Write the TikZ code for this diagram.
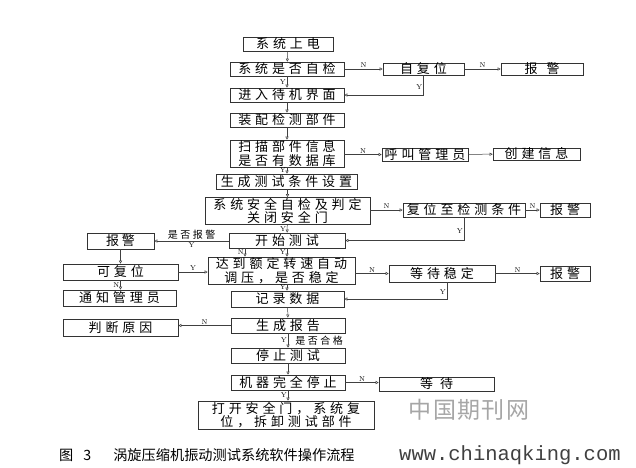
\documentclass[tikz,border=0pt]{standalone}
\usepackage{fontspec}
\usetikzlibrary{arrows.meta}
\setmonofont{Liberation Mono}
\newfontfamily\cjk[LetterSpace=30]{Noto Sans CJK SC}
\newfontfamily\cjklab[LetterSpace=25]{Noto Sans CJK SC}
\newfontfamily\cjkplain{Noto Sans CJK SC}
\tikzset{
  box/.style={draw=black!80, line width=0.6pt, inner sep=0pt, minimum height=14pt,
    font={\cjk\fontsize{13}{13.5}\selectfont}},
  twoline/.style={box, align=center, minimum height=27pt},
  arr/.style={-{Triangle[open,length=3pt,width=3pt]}, line width=0.5pt, draw=black!75},
  lab/.style={inner sep=1pt, font={\fontsize{7}{8}\selectfont}},
  clab/.style={inner sep=1pt, font={\cjklab\fontsize{10}{11}\selectfont}}
}
\begin{document}
\begin{tikzpicture}[x=1pt,y=-1pt]
        \useasboundingbox (0,0) rectangle (636,467);
        \node[box, minimum width=90pt] (power) at (288,44) {系统上电};
        \node[box, minimum width=114pt] (selfchk) at (287,69) {系统是否自检};
        \node[box, minimum width=81pt, minimum height=12pt] (reset) at (423.5,69) {自复位};
        \node[box, minimum width=82pt, minimum height=12pt] (alarmA) at (542,69) {报\hspace{9pt}警};
        \node[box, minimum width=114pt] (standby) at (287,95) {进入待机界面};
        \node[box, minimum width=114pt] (mount) at (287,120) {装配检测部件};
        \node[twoline, minimum width=114pt] (scan) at (287,153.5) {扫描部件信息\\是否有数据库};
        \node[box, minimum width=86pt, minimum height=13pt] (call) at (425,154.5) {呼叫管理员};
        \node[box, minimum width=87pt, minimum height=12pt] (create) at (536.5,154) {创建信息};
        \node[box, minimum width=141pt, minimum height=15pt] (cond) at (286.5,181.5) {生成测试条件设置};
        \node[twoline, minimum width=165pt] (safe) at (287.5,211) {系统安全自检及判定\\关闭安全门};
        \node[box, minimum width=122pt] (resetc) at (464,210) {复位至检测条件};
        \node[box, minimum width=50pt] (alarmB) at (565,210) {报\hspace{4pt}警};
        \node[box, minimum width=116pt, minimum height=15pt] (start) at (287,240.5) {开始测试};
        \node[box, minimum width=67pt, minimum height=16pt] (alarmC) at (120.5,241) {报\hspace{3pt}警};
        \node[twoline, minimum width=147pt] (speed) at (281.5,270.5) {达到额定转速自动\\调压，是否稳定};
        \node[box, minimum width=115pt, minimum height=16pt] (recov) at (120.5,272) {可复位};
        \node[box, minimum width=106pt, minimum height=17pt] (waitA) at (442,273.5) {等待稳定};
        \node[box, minimum width=50pt, minimum height=15pt] (alarmD) at (565,273.5) {报\hspace{4pt}警};
        \node[box, minimum width=113pt, minimum height=16pt] (notify) at (119.5,298) {通知管理员};
        \node[box, minimum width=113pt, minimum height=16pt] (record) at (287.5,299) {记录数据};
        \node[box, minimum width=115pt, minimum height=17pt] (cause) at (120.5,327.5) {判断原因};
        \node[box, minimum width=114pt, minimum height=15pt] (report) at (288,325.5) {生成报告};
        \node[box, minimum width=114pt, minimum height=15pt] (stop) at (288,355.5) {停止测试};
        \node[box, minimum width=114pt, minimum height=15pt] (halt) at (288,382.5) {机器完全停止};
        \node[box, minimum width=115pt] (waitB) at (436.5,384) {等\hspace{7pt}待};
        \node[twoline, minimum width=176pt, minimum height=28pt] (open) at (286,415) {打开安全门，系统复\\位，拆卸测试部件};
        \draw[arr] (power) -- (selfchk);
        \draw[arr] (selfchk) -- node[lab,left]{Y} (standby);
        \draw[arr] (selfchk) -- node[lab,above]{N} (reset);
        \draw[arr] (reset) -- node[lab,above]{N} (alarmA);
        \draw[arr] (reset.south) |- node[lab,pos=0.3,left]{Y} (standby.east);
        \draw[arr] (standby) -- (mount);
        \draw[arr] (mount) -- (scan);
        \draw[arr] (scan.south) -- node[lab,left]{Y} (scan.south |- cond.north);
        \draw[arr] (scan.east |- call) -- node[lab,above]{N} (call);
        \draw[arr] (call) -- (create);
        \draw[arr] (cond.south -| safe) -- (safe);
        \draw[arr] (safe) -- node[lab,left]{Y} (start);
        \draw[arr] (safe.east |- resetc) -- node[lab,above]{N} (resetc);
        \draw[arr] (resetc) -- node[lab,above]{N} (alarmB);
        \draw[arr] (resetc.south) |- node[lab,pos=0.3,left]{Y} (start.east);
        \draw[arr] (start.west |- alarmC) -- node[clab,above]{是否报警} node[lab,below]{Y} (alarmC);
        \draw[arr] (alarmC) -- (recov);
        \draw[arr] (recov.south) -- node[lab,left]{N} (recov.south |- notify.north);
        \draw[arr] ([xshift=-42pt]start.south) -- node[lab,left]{N} ([xshift=-42pt]start.south |- speed.north);
        \draw[arr] (start.south) -- node[lab,left]{Y} (start.south |- speed.north);
        \draw[arr] (recov) -- node[lab,above]{Y} (speed.west |- recov);
        \draw[arr] (speed.east |- waitA) -- node[lab,above]{N} (waitA);
        \draw[arr] (waitA) -- node[lab,above]{N} (alarmD);
        \draw[arr] ([xshift=5pt]waitA.south) |- node[lab,pos=0.3,left]{Y} (record.east);
        \draw[arr] (start |- speed.south) -- node[lab,left]{Y} (start |- record.north);
        \draw[arr] (record) -- (report);
        \draw[arr] (report.west) -- node[lab,above]{N} (report.west -| cause.east);
        \draw[arr] (report) -- node[lab,left]{Y} node[clab,right,xshift=6pt]{是否合格} (stop);
        \draw[arr] (stop) -- (halt);
        \draw[arr] (halt.east) -- node[lab,above]{N} (halt.east -| waitB.west);
        \draw[arr] (halt.south) -- node[lab,left]{Y} (halt.south |- open.north);
        \node[text=black!35, font={\cjkplain\fontsize{23}{23}\selectfont}] (mark) at (469,410) {中\hspace{1.5pt}国\hspace{1.5pt}期\hspace{1.5pt}刊\hspace{1.5pt}网};
        \node[anchor=west, inner sep=0pt, font={\cjkplain\fontsize{14.2}{15}\selectfont}] (caption) at (59,455) {图\hspace{10pt}3\hspace{22pt}涡旋压缩机振动测试系统软件操作流程};
        \node[anchor=west, inner sep=0pt, text=black!75, font={\ttfamily\fontsize{20.5}{21}\selectfont}] (site) at (399,455) {www.chinaqking.com};
\end{tikzpicture}
\end{document}
